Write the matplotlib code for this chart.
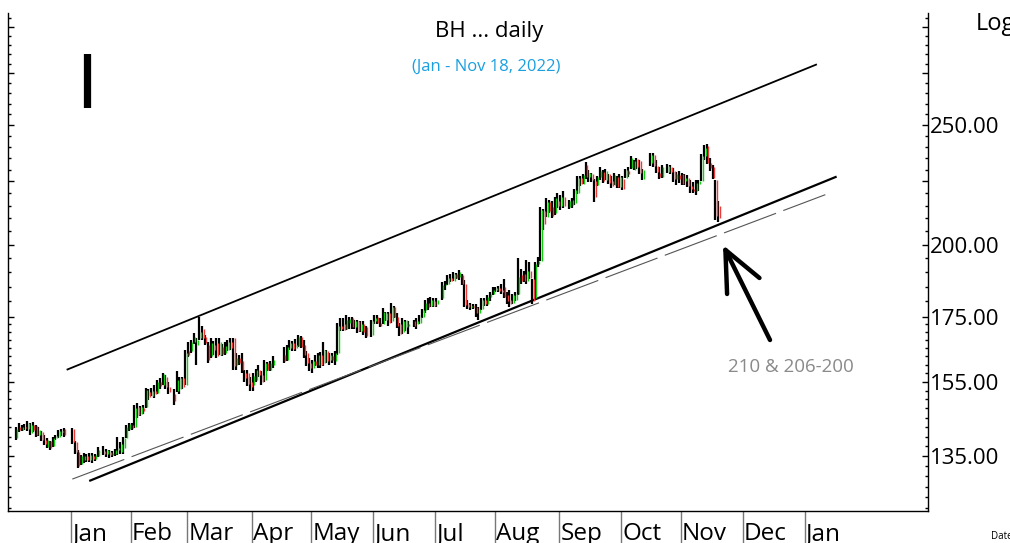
import numpy as np
import pandas as pd
import matplotlib
matplotlib.use("Agg")
import matplotlib.pyplot as plt
from matplotlib.ticker import FixedLocator, FixedFormatter, NullFormatter

# ---------------- data (open, high, low, close); None = no bar ----------------
dec21 = [(139.5,142.6,139.0,142.0),(142.5,143.6,141.2,141.6),(141.8,143.0,141.5,142.6),(142.6,143.4,141.8,142.2),
         (142.0,144.1,141.5,143.5),(141.0,143.6,140.5,143.0),(143.0,143.8,141.2,141.8),(142.8,143.0,140.0,140.4),
         (140.5,142.5,140.2,141.8),(141.2,141.5,138.8,139.0),(139.0,140.5,137.9,138.2),(137.3,139.6,137.1,139.2),
         (138.8,138.8,136.5,137.0),(137.5,139.8,137.2,139.5),(139.5,140.5,139.0,140.2),(140.0,141.7,139.5,141.4),
         (141.2,142.0,140.2,141.5),(142.0,142.2,140.0,140.4),None,None]
jan22 = [(142.0,142.3,138.2,138.5),(138.5,138.8,135.6,136.0),(136.0,136.5,132.0,132.5),(133.0,135.3,132.8,135.0),
         (134.0,135.8,133.3,135.0),(135.0,135.5,133.5,134.0),(134.0,135.8,133.6,135.4),(135.0,135.8,133.4,134.2),
         (134.3,135.6,133.8,135.2),(135.0,137.2,134.8,136.6),None,(136.2,137.5,135.2,135.6),
         (135.6,136.8,134.8,136.5),(136.0,136.5,134.6,135.2),(135.2,136.4,134.8,135.8),(135.5,136.8,135.0,136.5),
         (136.5,139.8,135.3,137.0),(136.0,138.5,135.6,138.2),(137.0,139.8,135.5,139.5),(139.5,143.1,139.5,142.5),
         (142.0,143.6,141.5,143.2)]
feb22 = [(143.0,143.5,141.8,142.2),(142.5,148.4,142.3,147.5),(148.0,148.9,145.0,145.8),(146.0,148.3,145.5,147.8),
         (147.5,148.5,146.0,146.8),(148.0,153.2,147.5,152.6),(152.0,153.0,149.8,150.6),(151.0,153.3,150.9,152.5),
         (152.5,154.0,150.5,151.5),(151.8,155.5,151.5,155.0),(155.0,156.0,153.0,153.8),(154.2,157.6,154.0,157.2),
         (156.5,157.0,153.0,153.5),(153.5,155.0,151.4,152.0),None,(151.5,153.0,148.5,149.5),
         (152.5,158.0,152.1,155.5),(153.0,156.5,151.5,156.0),(156.0,156.5,152.8,153.5),(154.0,164.4,154.0,163.5)]
mar22 = [(164.0,167.0,162.3,163.0),(164.0,167.5,163.5,166.8),(167.0,169.7,166.2,168.5),(166.0,168.2,159.8,167.5),
         (168.0,174.7,167.6,170.0),(171.0,172.0,167.5,168.0),(168.5,169.0,166.0,166.5),(166.0,167.0,160.5,161.5),
         (162.5,168.0,162.0,166.5),(166.0,167.3,163.0,164.5),(166.5,168.0,162.0,162.5),(163.0,168.0,162.8,166.8),
         (165.5,166.3,162.5,163.2),(163.5,166.8,162.8,165.8),(164.5,167.5,164.0,167.0),(167.0,168.0,164.5,165.2),
         (168.0,168.2,158.4,159.5),(160.0,163.5,158.4,162.0),(162.0,162.8,160.0,160.5),(161.0,163.5,157.5,158.5),
         (157.5,158.5,155.0,156.0),(157.5,158.3,153.8,154.5),(155.0,156.5,152.5,153.5)]
apr22 = [(154.0,157.5,152.5,156.8),(155.5,158.8,155.0,158.5),(158.5,160.0,156.5,157.0),(157.0,158.0,154.0,155.0),
         (155.5,161.3,155.0,160.5),(160.5,160.8,158.0,158.4),(158.5,161.0,158.0,160.5),(160.0,162.5,159.0,161.5),
         None,None,None,(163.0,165.5,160.5,161.0),
         (161.5,166.0,161.0,165.5),(165.0,167.5,164.4,166.5),(166.5,167.3,164.0,164.8),(165.0,167.8,164.0,166.0),
         (165.8,169.0,165.4,168.5),(168.5,168.8,165.0,165.5),(166.0,167.5,162.0,163.0),(163.5,164.0,159.5,160.5),
         (160.5,162.0,158.0,159.0)]
may22 = [(159.0,161.5,157.5,161.0),(161.0,163.0,159.5,160.0),(160.0,163.5,159.0,163.0),(163.0,163.8,159.0,159.8),
         (160.5,167.0,159.5,164.5),(164.0,164.5,160.5,161.0),(161.5,163.5,160.0,162.8),(162.5,163.5,160.5,161.5),
         (161.0,164.0,160.0,163.5),(163.5,172.8,163.0,172.0),(172.0,174.5,170.5,171.0),(172.5,174.5,170.3,170.8),
         (171.0,175.5,170.8,174.0),(173.0,175.0,171.0,174.2),(174.5,174.8,171.0,171.5),(171.5,173.8,171.0,173.5),
         (173.5,173.8,169.8,170.5),(170.5,173.5,170.0,172.5),(172.5,173.4,169.1,170.0),(171.5,172.0,168.0,168.8),
         None,(169.0,174.0,168.5,173.5)]
jun22 = [(173.5,175.5,172.7,174.5),(175.0,175.5,172.5,173.0),(173.0,174.5,171.5,172.0),(172.5,177.7,172.5,176.5),
         (174.0,176.5,173.5,176.0),(176.0,176.5,172.0,172.8),(173.5,179.3,173.0,178.0),(178.0,178.5,174.5,175.0),
         (175.0,176.0,171.3,172.0),(172.5,173.0,168.7,169.5),(170.0,174.5,169.5,173.5),(171.5,174.0,170.5,173.8),
         (172.0,173.5,169.5,172.5),None,(173.5,174.0,171.5,172.0),(172.5,174.5,171.0,173.5),
         (173.0,175.5,172.5,175.0),(175.0,177.5,174.5,177.0),(177.0,180.4,176.0,179.5),(179.5,181.0,177.0,178.0),
         (178.5,181.5,178.0,180.5),(180.0,181.0,178.0,178.5)]
jul22 = [(179.0,181.0,178.0,180.5),None,(181.0,186.6,180.5,185.5),(185.5,187.0,184.0,186.0),
         (186.0,189.0,185.5,188.0),(188.0,189.5,186.5,187.0),(187.0,190.0,186.8,189.5),(189.5,189.8,187.5,188.0),
         (188.5,190.7,187.2,190.0),(189.0,189.5,185.5,186.0),(186.0,187.2,178.0,178.8),(179.0,180.5,177.4,178.0),
         (178.0,179.5,177.0,178.5),(178.5,179.2,177.5,178.0),(178.0,179.0,175.0,176.0),(176.0,178.0,173.8,177.5),
         (177.5,181.0,177.0,180.5),(180.5,181.0,178.5,179.0),(179.0,182.0,178.5,181.5),(181.5,183.0,180.0,182.5),
         (182.5,185.0,182.0,184.0)]
aug22 = [(184.0,185.0,183.0,184.5),(184.5,185.2,183.2,183.5),(184.0,186.0,182.5,183.0),(185.0,187.5,181.0,181.5),
         (182.0,183.0,179.0,180.0),(180.5,184.0,178.0,179.0),(179.5,182.5,179.0,182.0),(180.5,183.0,180.0,182.5),
         (182.5,195.0,182.0,188.5),(189.0,191.0,186.0,187.0),(189.5,190.5,186.5,187.0),(187.0,194.5,186.0,190.5),
         (190.5,193.5,187.5,188.0),(187.5,187.7,179.2,180.0),(181.0,193.5,180.5,193.0),(193.0,195.5,192.0,194.0),
         (194.0,214.5,194.0,213.5),(213.0,213.9,205.5,208.0),(210.5,218.2,210.5,216.5),(216.5,217.5,212.0,213.0),
         (214.5,217.0,210.0,211.0),(212.0,218.5,211.5,218.0),(217.0,220.0,214.0,215.0)]
sep22 = [(215.0,219.4,213.4,218.5),(218.5,220.8,214.1,215.0),None,(214.5,217.5,213.8,217.0),
         (215.5,218.0,214.0,217.5),(216.0,222.0,215.5,221.5),(220.0,227.3,219.7,226.5),(226.5,227.3,223.0,224.0),
         (224.0,228.0,223.8,227.5),(232.0,233.3,226.0,227.0),(227.0,230.0,224.6,228.5),(228.0,228.7,224.6,225.5),
         (225.0,226.0,216.4,218.5),(223.5,227.3,223.0,226.8),(227.0,231.0,225.5,229.5),(229.0,229.7,224.2,225.0),
         (225.5,230.4,225.5,229.5),(228.0,228.2,224.0,224.5),(225.0,227.3,222.2,223.0),(223.5,228.7,223.4,227.5),
         (227.0,227.3,222.2,222.5),(222.5,228.2,222.2,227.0)]
oct22 = [(226.0,227.3,221.3,222.0),(226.5,230.4,226.4,230.0),(229.5,231.0,227.0,228.0),(230.5,235.7,230.4,235.0),
         (230.0,234.0,229.7,233.5),(234.5,234.8,230.4,231.0),(233.5,234.0,228.2,228.5),(226.0,230.4,225.5,230.0),
         None,None,(233.0,237.3,231.4,236.5),(236.5,237.0,231.0,231.5),
         (231.5,234.0,228.5,229.0),(228.5,231.0,225.8,227.0),(227.0,232.0,226.5,231.0),None,
         (229.0,232.5,228.5,231.5),(231.0,232.0,228.0,229.0),(229.5,230.5,224.6,226.0),(226.0,229.0,223.4,228.0),
         (227.5,229.5,224.5,226.0)]
nov22 = [(228.0,228.5,223.5,224.0),(225.0,228.0,223.5,226.5),(226.5,227.5,222.5,223.0),(223.0,225.4,220.3,222.0),
         (222.0,224.6,220.0,221.0),(221.0,225.5,219.5,224.5),(224.0,225.5,221.0,225.0),(225.0,236.7,225.0,236.0),
         (236.0,240.6,234.0,239.5),(240.5,241.3,232.4,233.0),(233.0,235.0,229.5,230.5),(231.0,232.0,226.0,226.5),
         (225.5,225.5,209.3,211.0),(215.0,217.0,208.5,210.0)]

first_day = "2021-12-06"
month_starts = ["2022-01-03","2022-02-01","2022-03-01","2022-04-01","2022-05-02","2022-06-01","2022-07-01",
                "2022-08-01","2022-09-01","2022-10-03","2022-11-01","2022-12-01","2023-01-02"]
month_labels = ["Jan","Feb","Mar","Apr","May","Jun","Jul","Aug","Sep","Oct","Nov","Dec","Jan"]
price_ticks = [135, 155, 175, 200, 250]
upper_dates, upper_prices = ["2021-12-30", "2023-01-06"], [158.5, 279.7]
lower_dates, lower_prices = ["2022-01-11", "2023-01-17"], [128.9, 227.0]
mid_dates, mid_prices = ["2022-01-03", "2023-01-11"], [129.35, 219.5]

title = "BH ... daily"
subtitle = "(Jan - Nov 18, 2022)"
note = "210 & 206-200"

# ---------------- build ----------------
FONT = ["Open Sans", "DejaVu Sans"]
calendar = pd.bdate_range(first_day, "2023-02-28")
loc = {d: i for i, d in enumerate(calendar)}
def xpos(d):
    return loc[pd.Timestamp(d)]

bars = dec21 + jan22 + feb22 + mar22 + apr22 + may22 + jun22 + jul22 + aug22 + sep22 + oct22 + nov22
idx = np.array([i for i, b in enumerate(bars) if b is not None])
O, H, L, C = np.array([b for b in bars if b is not None]).T
up = C >= O

W, Hh = 1010, 543
fig = plt.figure(figsize=(W / 100, Hh / 100), dpi=100)
fig.patch.set_facecolor("white")
ax = fig.add_axes([8 / W, 32 / Hh, 920 / W, 498 / Hh])
ax.set_yscale("log")
x0 = xpos("2022-01-03")
ax.set_xlim(x0 - 22.8, x0 + 303.4)
ax.set_ylim(121.9, 307.7)

# candles
ax.vlines(idx, L, H, color="black", lw=1.6, zorder=3)
ax.vlines(idx[up] + 0.55, O[up], C[up], color="#10d010", lw=1.0, zorder=4)
ax.vlines(idx[~up] + 0.55, C[~up], O[~up], color="#f03a3a", lw=1.0, zorder=4)

# channel lines
ax.plot([xpos(d) for d in upper_dates], upper_prices, color="black", lw=1.3, solid_capstyle="butt")
ax.plot([xpos(d) for d in lower_dates], lower_prices, color="black", lw=1.6, solid_capstyle="butt")
ax.plot([xpos(d) for d in mid_dates], mid_prices, color="#555555", lw=0.8, dashes=(50, 7))

# spines / ticks
ax.spines["top"].set_visible(False)
for s in ("left", "right", "bottom"):
    ax.spines[s].set_linewidth(1.0)
    ax.spines[s].set_color("black")
ax.set_xticks([])
minor = [v for v in np.arange(122.5, 175, 2.5)] + [v for v in np.arange(180, 310, 5)]
minor = [v for v in minor if v not in price_ticks + [225, 275, 300]]
ax.yaxis.set_major_locator(FixedLocator(price_ticks + [225, 275, 300]))
ax.yaxis.set_major_formatter(FixedFormatter([f"{v:.2f}" for v in price_ticks] + ["", "", ""]))
ax.yaxis.set_minor_locator(FixedLocator(minor))
ax.yaxis.set_minor_formatter(NullFormatter())
ax.tick_params(axis="y", which="both", direction="in", left=True, right=True, labelleft=False, labelright=True,
               width=1.0, colors="black")
ax.tick_params(axis="y", which="major", length=4.5, pad=1.5, labelsize=16)
ax.tick_params(axis="y", which="minor", length=2.5)
for t in ax.get_yticklabels():
    t.set_family(FONT)

# month separators and labels
tr = ax.get_xaxis_transform()
sep = [xpos(d) - 0.3 for d in month_starts]
ax.vlines(sep, -0.08, 0, transform=tr, color="#777777", lw=1.0, clip_on=False)
for xx, lab in zip(sep, month_labels):
    ax.text(xx + 0.5, -0.022, lab, transform=tr, ha="left", va="top", fontsize=17.5, family=FONT, clip_on=False)

# texts
fig.text(489 / W, 1 - 32 / Hh, title, ha="center", va="center", fontsize=16, family=FONT, color="black")
fig.text(486 / W, 1 - 67 / Hh, subtitle, ha="center", va="center", fontsize=12, family=FONT, color="#1a9fe0")
fig.text(976 / W, 1 - 30 / Hh, "Log", ha="left", va="baseline", fontsize=17, family=FONT, color="black")
fig.text(991 / W, 1 - 539 / Hh, "Date", ha="left", va="baseline", fontsize=7, family=FONT, color="black")
fig.text(86.3 / W, 1 - 108 / Hh, "I", ha="center", va="baseline", fontsize=54, family=["Lato", "DejaVu Sans"],
         color="black")
fig.text(791 / W, 1 - 367 / Hh, note, ha="center", va="center", fontsize=13.5, family=FONT, color="#8a8a8a")

# arrow pointing at the lower channel
ax.annotate("", xy=(723 / W, 1 - 245 / Hh), xycoords="figure fraction",
            xytext=(770 / W, 1 - 340 / Hh), textcoords="figure fraction",
            arrowprops=dict(arrowstyle="->,head_length=2.9,head_width=1.3", lw=3.2, color="black",
                            shrinkA=0, shrinkB=0, mutation_scale=10))

fig.savefig("out.png", dpi=100, facecolor="white")
